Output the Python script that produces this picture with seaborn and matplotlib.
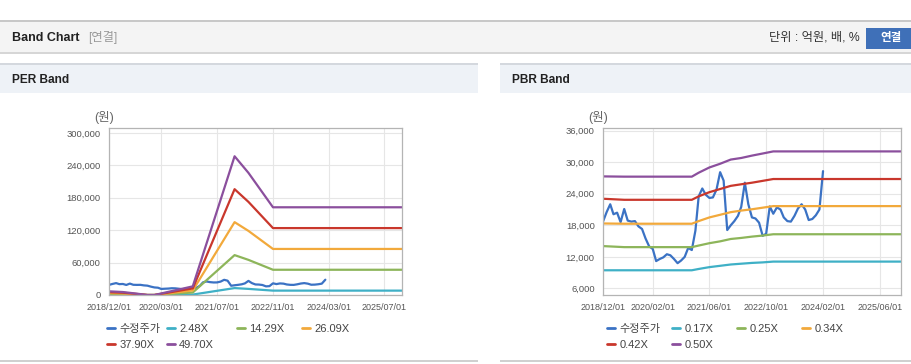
import pandas as pd
import numpy as np
import matplotlib
import matplotlib.pyplot as plt
import seaborn as sns
from matplotlib.patches import Rectangle
from matplotlib.lines import Line2D
from matplotlib.ticker import FuncFormatter

sns.set_theme(style="white")
plt.rcParams['font.family'] = ['Liberation Sans', 'Noto Sans CJK KR']

# --- data ---
price_dates = pd.date_range('2018-12-01', periods=63, freq='MS')
price = [18700, 20500, 22000, 20100, 20400, 18600, 21100, 18900, 18700, 18800,
         17800, 17300, 15500, 14000, 13500, 11200, 11600, 11900, 12500, 12300,
         11600, 10800, 11300, 12000, 13700, 13300, 17000, 23500, 25000, 23800,
         23200, 23300, 24800, 28100, 26500, 17100, 18000, 18800, 19800, 21500,
         26100, 22000, 19500, 19300, 18500, 16000, 16400, 21600, 20200, 21400,
         21000, 19500, 18800, 18700, 19800, 21200, 22000, 21000, 19000, 19200,
         19900, 21000, 28300]

per_dates = ['2018-12-01', '2019-04-01', '2019-08-01', '2019-11-01', '2020-01-01',
             '2020-12-01', '2021-12-01', '2022-04-01', '2022-11-01', '2025-12-01']
per_labels = ['2.48X', '14.29X', '26.09X', '37.90X', '49.70X']
per_bands = {
    '2.48X':  [340, 270, 120, 0, 0, 800, 12800, 11300, 8100, 8100],
    '14.29X': [1950, 1600, 700, 0, 0, 4600, 73800, 65000, 46700, 46700],
    '26.09X': [3600, 2900, 1300, 0, 0, 8400, 134800, 118600, 85200, 85200],
    '37.90X': [5200, 4200, 1900, 0, 0, 12200, 195800, 172300, 123800, 123800],
    '49.70X': [6800, 5500, 2500, 0, 0, 16000, 256700, 226000, 162300, 162300],
}

pbr_dates = ['2018-12-01', '2019-06-01', '2021-01-01', '2021-03-01', '2021-06-01',
             '2021-09-01', '2021-12-01', '2022-03-01', '2022-06-01', '2022-09-01',
             '2022-12-01', '2025-12-01']
pbr_labels = ['0.17X', '0.25X', '0.34X', '0.42X', '0.50X']
pbr_bands = {
    '0.17X': [9450, 9450, 9450, 9700, 10050, 10300, 10550, 10700, 10850, 10950, 11100, 11100],
    '0.25X': [14050, 13850, 13850, 14150, 14600, 14950, 15400, 15600, 15850, 16050, 16300, 16300],
    '0.34X': [18350, 18300, 18300, 18800, 19500, 20000, 20500, 20800, 21050, 21350, 21650, 21650],
    '0.42X': [23050, 22850, 22850, 23500, 24300, 24900, 25500, 25800, 26100, 26450, 26800, 26800],
    '0.50X': [27300, 27250, 27250, 28000, 29000, 29700, 30500, 30800, 31250, 31650, 32050, 32050],
}

per_xticks = ['2018/12/01', '2020/03/01', '2021/07/01', '2022/11/01', '2024/03/01', '2025/07/01']
pbr_xticks = ['2018/12/01', '2020/02/01', '2021/06/01', '2022/10/01', '2024/02/01', '2025/06/01']
per_yticks = [0, 60000, 120000, 180000, 240000, 300000]
pbr_yticks = [6000, 12000, 18000, 24000, 30000, 36000]

price_color = '#3b72c4'
band_colors = ['#3fb0c6', '#8db55a', '#f2a93b', '#c9372c', '#8b4f9d']

# --- figure ---
W, H = 912, 364
fig = plt.figure(figsize=(W / 100, H / 100), dpi=100)
fig.patch.set_facecolor('white')


def box(x, y, w, h):
    return [x / W, 1 - (y + h) / H, w / W, h / H]


def rect(x, y, w, h, color, z=0):
    fig.add_artist(Rectangle((x / W, 1 - (y + h) / H), w / W, h / H,
                             transform=fig.transFigure, facecolor=color,
                             edgecolor='none', zorder=z))


def text(x, y, s, **kw):
    fig.text(x / W, 1 - y / H, s, va='center', **kw)


# page header
rect(0, 20, W, 2, '#c8c8c8')
rect(0, 22, W, 30, '#f4f4f4')
rect(0, 52, W, 2, '#d6d6d6')
text(12, 38, 'Band Chart', fontsize=9, fontweight='bold', color='#222222')
text(88, 38, '[연결]', fontsize=8.8, color='#999999')
text(860, 38, '단위 : 억원, 배, %', fontsize=8.8, color='#333333', ha='right')
rect(866, 28, 46, 21, '#3f70b8')
text(891, 38.5, '연결', fontsize=8.3, fontweight='bold', color='white', ha='center')

# panel headers and bottom lines
for px0, pw, title in [(0, 478, 'PER Band'), (500, 412, 'PBR Band')]:
    rect(px0, 63, pw, 1.5, '#d4d8de')
    rect(px0, 64.5, pw, 28.5, '#eef2f7')
    rect(px0, 360, pw, 1.5, '#d0d0d0')
    text(px0 + 12, 80, title, fontsize=8.6, fontweight='bold', color='#222222')

ax1 = fig.add_axes(box(109, 128, 293, 167))
ax2 = fig.add_axes(box(603, 128, 298, 167))

panels = [
    (ax1, per_dates, per_labels, per_bands, per_xticks, per_yticks, (0, 309000), 104),
    (ax2, pbr_dates, pbr_labels, pbr_bands, pbr_xticks, pbr_yticks, (4750, 36500), 598),
]

for ax, bdates, blabels, bands, xt, yt, ylim, unit_x in panels:
    bd = pd.to_datetime(bdates)
    sns.lineplot(x=price_dates, y=price, ax=ax, color=price_color, linewidth=1.6)
    for lab, col in zip(blabels, band_colors):
        sns.lineplot(x=bd, y=bands[lab], ax=ax, color=col, linewidth=1.6)

    ax.set_xlim(pd.Timestamp('2018-12-01'), pd.Timestamp('2025-12-01'))
    ax.set_ylim(*ylim)
    ax.set_xticks(pd.to_datetime(xt))
    ax.set_xticklabels(xt)
    ax.set_yticks(yt)
    ax.yaxis.set_major_formatter(FuncFormatter(lambda v, p: f'{int(v):,}'))
    ax.set_xlabel('')
    ax.set_ylabel('')
    ax.grid(True, color='#e6e6e6', linewidth=0.8)
    ax.set_axisbelow(True)
    for sp in ax.spines.values():
        sp.set_color('#b4b4b4')
        sp.set_linewidth(0.9)
    ax.tick_params(axis='y', length=4, width=0.8, color='#b4b4b4', pad=2,
                   labelsize=6.8, labelcolor='#555555')
    ax.tick_params(axis='x', length=0, pad=6, labelsize=6.5, labelcolor='#555555')
    if ax.get_legend():
        ax.get_legend().remove()

    fig.text(unit_x / W, 1 - 117 / H, '(원)', fontsize=9, color='#666666',
             ha='center', va='center')

# legends, one entry per slot (row-wise like the reference)
legend_slots = {
    'PER': ([107, 167, 237, 302], ['수정주가'] + per_labels),
    'PBR': ([607, 672, 737, 802], ['수정주가'] + pbr_labels),
}
all_colors = [price_color] + band_colors
for key, (cols, labels) in legend_slots.items():
    for i, (lab, col) in enumerate(zip(labels, all_colors)):
        cx = cols[i % 4]
        cy = 329 if i < 4 else 345
        leg = fig.legend(handles=[Line2D([], [], color=col, linewidth=2)], labels=[lab],
                         loc='center left', bbox_to_anchor=(cx / W, 1 - cy / H),
                         frameon=False, borderpad=0, borderaxespad=0,
                         handlelength=0.75, handletextpad=0.35,
                         prop={'size': 8, 'family': ['Liberation Sans', 'Noto Sans CJK KR']})
        for t in leg.get_texts():
            t.set_color('#444444')

fig.savefig('out.png', dpi=100)
